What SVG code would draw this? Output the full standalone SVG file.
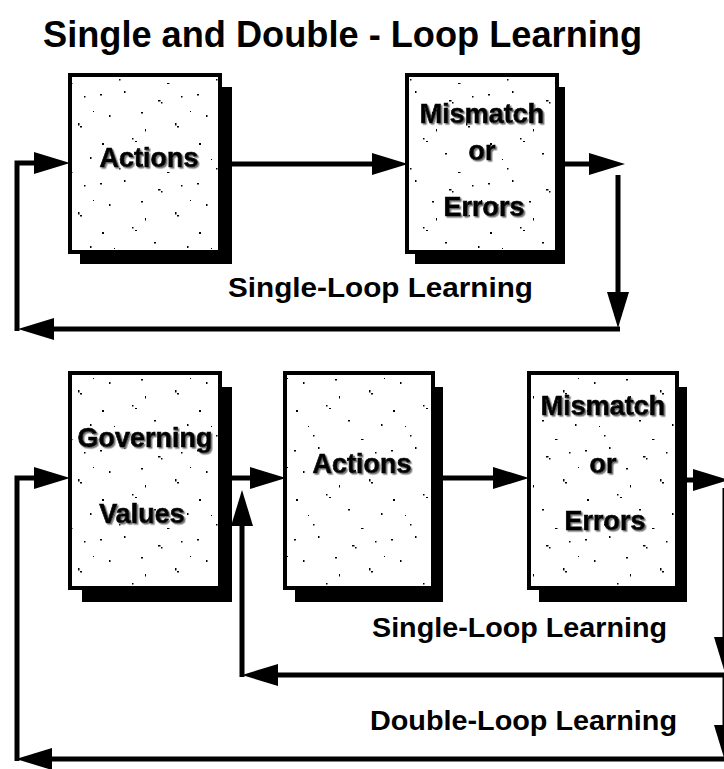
<svg xmlns="http://www.w3.org/2000/svg" width="724" height="769" viewBox="0 0 724 769">
  <defs>
    <style>
      .title { font-family: "Liberation Sans", Arial, sans-serif; font-weight: bold; font-size: 36px; fill: #000; }
      .label { font-family: "Liberation Sans", Arial, sans-serif; font-weight: bold; font-size: 28px; fill: #000; }
      .boxtext { font-family: "Liberation Sans", Arial, sans-serif; font-weight: bold; font-size: 27px; fill: #000; stroke: #000; stroke-width: 0.7; text-anchor: middle; filter: url(#emboss); }
      .shadow { fill: #000; }
      .face { fill: #fff; stroke: #000; stroke-width: 4; }
      .grain { fill: url(#speckle); }
      .conn { fill: none; stroke: #000; stroke-width: 5; marker-end: url(#head); }
    </style>
    <!-- light grey offset behind the box captions -->
    <filter id="emboss" x="-10%" y="-20%" width="130%" height="150%">
      <feDropShadow dx="1.5" dy="1.5" stdDeviation="0.6" flood-color="#777" flood-opacity="1"/>
    </filter>
    <!-- scattered dots that texture the box faces -->
    <pattern id="speckle" width="97" height="89" patternUnits="userSpaceOnUse">
      <g fill="#000">
        <rect x="3" y="5" width="2" height="1.5"/>
        <rect x="27" y="2" width="1.5" height="2"/>
        <rect x="61" y="11" width="2.5" height="1.5"/>
        <rect x="64" y="13" width="1.5" height="1.5"/>
        <rect x="84" y="7" width="1.5" height="1.5"/>
        <rect x="12" y="26" width="1.5" height="2"/>
        <rect x="44" y="23" width="2" height="1.5"/>
        <rect x="78" y="34" width="1.5" height="2.5"/>
        <rect x="80" y="37" width="2" height="1.5"/>
        <rect x="5" y="54" width="2" height="2"/>
        <rect x="35" y="49" width="1.5" height="1.5"/>
        <rect x="38" y="52" width="2" height="1"/>
        <rect x="57" y="64" width="2" height="1.5"/>
        <rect x="90" y="68" width="1.5" height="2"/>
        <rect x="22" y="79" width="1.5" height="1.5"/>
        <rect x="70" y="83" width="2.5" height="1"/>
        <rect x="48" y="40" width="1" height="2.5"/>
        <rect x="17" y="70" width="1" height="1"/>
        <rect x="93" y="22" width="1" height="1"/>
      </g>
    </pattern>
    <marker id="head" markerUnits="userSpaceOnUse" markerWidth="38" markerHeight="24" refX="0" refY="11" orient="auto" overflow="visible">
      <path d="M0,0 L36,11 L0,22 Z" fill="#000"/>
    </marker>
  </defs>

  <rect width="724" height="769" fill="#fff"/>

  <text class="title" x="43" y="47" textLength="599" lengthAdjust="spacingAndGlyphs">Single and Double - Loop Learning</text>

  <!-- upper diagram: single loop -->
  <g id="top-actions">
    <rect class="shadow" x="80" y="87" width="152" height="177"/>
    <rect class="face" x="70" y="75" width="150" height="177"/>
    <rect class="grain" x="72" y="77" width="146" height="173"/>
    <text class="boxtext" x="149" y="167">Actions</text>
  </g>
  <g id="top-mismatch">
    <rect class="shadow" x="415" y="87" width="150" height="177"/>
    <rect class="face" x="407" y="75" width="150" height="177"/>
    <rect class="grain" x="409" y="77" width="146" height="173"/>
    <text class="boxtext" x="482" y="123">Mismatch</text>
    <text class="boxtext" x="482" y="160">or</text>
    <text class="boxtext" x="484" y="216">Errors</text>
  </g>
  <text class="label" x="228" y="297" textLength="305" lengthAdjust="spacingAndGlyphs">Single-Loop Learning</text>

  <!-- lower diagram: single and double loop -->
  <g id="governing-values">
    <rect class="shadow" x="82" y="387" width="150" height="215"/>
    <rect class="face" x="70" y="373" width="150" height="215"/>
    <rect class="grain" x="72" y="375" width="146" height="211"/>
    <text class="boxtext" x="145" y="447">Governing</text>
    <text class="boxtext" x="142" y="523">Values</text>
  </g>
  <g id="bottom-actions">
    <rect class="shadow" x="295" y="387" width="148" height="215"/>
    <rect class="face" x="285" y="373" width="148" height="215"/>
    <rect class="grain" x="287" y="375" width="144" height="211"/>
    <text class="boxtext" x="362" y="473">Actions</text>
  </g>
  <g id="bottom-mismatch">
    <rect class="shadow" x="539" y="387" width="148" height="215"/>
    <rect class="face" x="529" y="373" width="148" height="215"/>
    <rect class="grain" x="531" y="375" width="144" height="211"/>
    <text class="boxtext" x="603" y="415">Mismatch</text>
    <text class="boxtext" x="603" y="473">or</text>
    <text class="boxtext" x="605" y="530">Errors</text>
  </g>
  <text class="label" x="372" y="637" textLength="295" lengthAdjust="spacingAndGlyphs">Single-Loop Learning</text>
  <text class="label" x="370" y="730" textLength="307" lengthAdjust="spacingAndGlyphs">Double-Loop Learning</text>

  <g id="connectors">
    <!-- upper loop -->
    <path class="conn" d="M220,164 H372"/>
    <path class="conn" d="M557,164 H589"/>
    <path class="conn" d="M618,175 V292"/>
    <path class="conn" d="M620,329 H54"/>
    <path class="conn" d="M17,331 V163 H34"/>
    <!-- lower loops -->
    <path class="conn" d="M220,478 H250"/>
    <path class="conn" d="M433,478 H493"/>
    <path class="conn" d="M677,480 H693"/>
    <path class="conn" d="M725,488 V637"/>
    <path class="conn" d="M725,673 V725"/>
    <path class="conn" d="M725,675 H278"/>
    <path class="conn" d="M242,677 V526"/>
    <path class="conn" d="M725,759 H52"/>
    <path class="conn" d="M17,761 V478 H34"/>
  </g>
</svg>
